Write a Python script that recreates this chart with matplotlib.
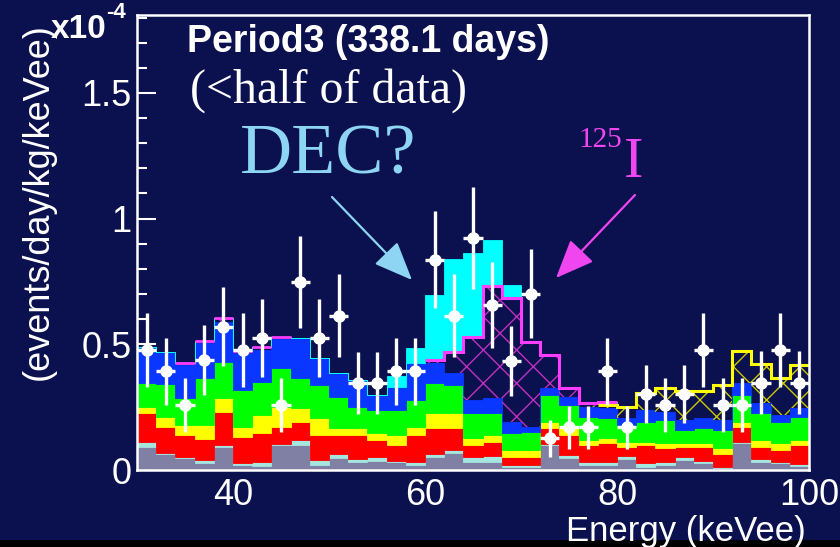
import numpy as np
import matplotlib
matplotlib.use("Agg")
import matplotlib.pyplot as plt
from matplotlib.patches import Rectangle

# ---- data (rates in units of 1e-4 events/day/kg/keVee) ----
energy_edges = np.arange(30, 102, 2)          # 2 keVee bins, 30-100 keVee

data_rate = [0.478, 0.392, 0.259, 0.438, 0.569, 0.478, 0.525, 0.259, 0.748, 0.525,
             0.614, 0.345, 0.345, 0.392, 0.392, 0.837, 0.614, 0.923, 0.657, 0.435,
             0.701, 0.126, 0.170, 0.170, 0.392, 0.170, 0.303, 0.259, 0.303, 0.478,
             0.259, 0.259, 0.348, 0.478, 0.348]
data_err = [0.147, 0.133, 0.106, 0.139, 0.157, 0.147, 0.155, 0.106, 0.183, 0.155,
            0.165, 0.124, 0.124, 0.133, 0.133, 0.192, 0.165, 0.202, 0.171, 0.139,
            0.177, 0.074, 0.086, 0.086, 0.133, 0.086, 0.116, 0.106, 0.116, 0.147,
            0.106, 0.106, 0.124, 0.147, 0.124]

# cumulative (stacked) background model, bottom to top
stack_gray = [0.093, 0.063, 0.047, 0.029, 0.093, 0.020, 0.016, 0.100, 0.100, 0.020,
              0.047, 0.033, 0.036, 0.030, 0.020, 0.053, 0.066, 0.033, 0.033, 0.010,
              0.010, 0.100, 0.047, 0.020, 0.020, 0.043, 0.013, 0.020, 0.040, 0.027,
              0.007, 0.106, 0.033, 0.027, 0.015]
stack_teal = [0.113, 0.068, 0.050, 0.040, 0.100, 0.027, 0.033, 0.105, 0.120, 0.040,
              0.064, 0.045, 0.050, 0.036, 0.030, 0.065, 0.080, 0.053, 0.056, 0.020,
              0.020, 0.104, 0.060, 0.033, 0.033, 0.056, 0.029, 0.033, 0.053, 0.037,
              0.013, 0.113, 0.045, 0.033, 0.025]
stack_red = [0.226, 0.173, 0.139, 0.122, 0.232, 0.133, 0.146, 0.173, 0.192, 0.139,
             0.139, 0.139, 0.120, 0.100, 0.139, 0.166, 0.166, 0.100, 0.113, 0.053,
             0.050, 0.166, 0.139, 0.100, 0.109, 0.093, 0.100, 0.086, 0.093, 0.093,
             0.064, 0.173, 0.093, 0.080, 0.100]
stack_yellow = [0.252, 0.212, 0.179, 0.179, 0.288, 0.173, 0.219, 0.252, 0.246, 0.206,
                0.166, 0.166, 0.146, 0.139, 0.173, 0.226, 0.226, 0.126, 0.139, 0.080,
                0.080, 0.192, 0.166, 0.120, 0.126, 0.113, 0.113, 0.106, 0.109, 0.109,
                0.086, 0.192, 0.120, 0.106, 0.120]
stack_green = [0.345, 0.343, 0.286, 0.365, 0.431, 0.319, 0.352, 0.405, 0.365, 0.339,
               0.292, 0.252, 0.239, 0.239, 0.279, 0.345, 0.339, 0.227, 0.227, 0.146,
               0.153, 0.299, 0.259, 0.212, 0.206, 0.179, 0.192, 0.199, 0.159, 0.166,
               0.159, 0.299, 0.226, 0.192, 0.212]
stack_blue = [0.491, 0.471, 0.418, 0.505, 0.587, 0.465, 0.478, 0.521, 0.525, 0.445,
              0.385, 0.360, 0.300, 0.332, 0.425, 0.425, 0.385, 0.279, 0.285, 0.192,
              0.173, 0.325, 0.289, 0.252, 0.246, 0.206, 0.239, 0.232, 0.199, 0.206,
              0.199, 0.345, 0.268, 0.219, 0.246]
stack_hatch_y = [0.491, 0.471, 0.418, 0.505, 0.587, 0.465, 0.478, 0.521, 0.525, 0.445,
                 0.385, 0.360, 0.300, 0.332, 0.425, 0.425, 0.385, 0.279, 0.285, 0.192,
                 0.173, 0.325, 0.289, 0.256, 0.258, 0.250, 0.305, 0.325, 0.315, 0.315,
                 0.339, 0.475, 0.422, 0.365, 0.418]
stack_i125 = [0.491, 0.471, 0.425, 0.515, 0.604, 0.475, 0.490, 0.530, 0.525, 0.445,
              0.385, 0.360, 0.300, 0.332, 0.425, 0.438, 0.471, 0.531, 0.733, 0.685,
              0.511, 0.458, 0.325, 0.266, 0.272, 0.250, 0.305, 0.325, 0.315, 0.315,
              0.339, 0.475, 0.422, 0.365, 0.418]
stack_dec = [0.491, 0.471, 0.425, 0.515, 0.604, 0.475, 0.490, 0.530, 0.525, 0.445,
             0.385, 0.360, 0.300, 0.372, 0.485, 0.697, 0.839, 0.863, 0.914, 0.737,
             0.511, 0.458, 0.325, 0.266, 0.272, 0.250, 0.305, 0.325, 0.315, 0.315,
             0.339, 0.475, 0.422, 0.365, 0.418]

x_major = [40, 60, 80, 100]
y_major = [0, 0.5, 1, 1.5]
y_labels = ["0", "0.5", "1", "1.5"]

# ---- style ----
BG = "#0b104f"
SANS = ["Liberation Sans", "DejaVu Sans"]
SERIF = ["Liberation Serif", "DejaVu Serif"]
DEC_COL = "#8dd5f2"
I125_COL = "#f046f0"
plt.rcParams["hatch.linewidth"] = 1.0

W, H = 840, 547
fig = plt.figure(figsize=(W / 100, H / 100), dpi=100)
fig.patch.set_facecolor(BG)
fig.patches.append(Rectangle((0, 0), 1, 7 / H, transform=fig.transFigure,
                             facecolor="black", edgecolor="none", zorder=0))

ax = fig.add_axes([137 / W, 1 - 470 / H, (809 - 137) / W, (470 - 15) / H])
ax.set_facecolor("none")
ax.set_xlim(30, 100)
ax.set_ylim(0, 1.81)

edges = energy_edges
gray = np.array(stack_gray)
teal = np.array(stack_teal)
red = np.array(stack_red)
yel = np.array(stack_yellow)
grn = np.array(stack_green)
blue = np.array(stack_blue)
hy = np.array(stack_hatch_y)
i125 = np.array(stack_i125)
dec = np.array(stack_dec)

layers = [
    (np.zeros_like(gray), gray, "#8080a4"),
    (gray, teal, "#a6e6e0"),
    (teal, red, "#ff0000"),
    (red, yel, "#ffff00"),
    (yel, grn, "#00ff00"),
    (grn, blue, "#0a37ff"),
]
for lo, hi, col in layers:
    ax.stairs(hi, edges, baseline=lo, fill=True, facecolor=col,
              edgecolor=col, linewidth=0.6, zorder=2)

# hatched components
ax.stairs(hy, edges, baseline=blue, fill=True, facecolor="none",
          edgecolor="#c8c800", hatch="x", linewidth=0, zorder=2)
ax.stairs(i125, edges, baseline=hy, fill=True, facecolor="none",
          edgecolor="#c030c0", hatch="x", linewidth=0, zorder=2)
ax.stairs(dec, edges, baseline=i125, fill=True, facecolor="#00ffff",
          edgecolor="#00ffff", linewidth=0.6, zorder=2)

# outlines of the hatched components
low = (edges[1:] <= 60) & (i125 - hy > 0.003)
ax.hlines(i125[low], edges[:-1][low], edges[1:][low], color="#ff3cff",
          linewidth=2.0, zorder=3)
ax.stairs(i125[15:25], edges[15:26], baseline=None, fill=False,
          color="#ff3cff", linewidth=2.2, zorder=3)
ax.stairs(hy[24:], edges[24:], baseline=None, fill=False,
          color="#ffff00", linewidth=2.2, zorder=3)

# measured points
centers = 0.5 * (edges[:-1] + edges[1:])
ax.errorbar(centers, data_rate, yerr=data_err, xerr=1.0, fmt="o", color="white",
            ms=8, elinewidth=2.4, capsize=0, zorder=6)

# frame and ticks
for sp in ax.spines.values():
    sp.set_color("white")
    sp.set_linewidth(1.8)
    sp.set_zorder(8)
ax.set_xticks(x_major)
ax.set_xticks(np.arange(35, 100, 5), minor=True)
ax.set_yticks(y_major)
ax.set_yticklabels(y_labels)
ax.set_yticks(np.arange(0, 1.81, 0.1), minor=True)
ax.tick_params(which="both", direction="in", colors="white", width=1.5,
               top=False, right=False)
ax.tick_params(axis="y", which="major", length=14, pad=4)
ax.tick_params(axis="y", which="minor", length=7)
ax.tick_params(axis="x", which="major", length=6, pad=6)
ax.tick_params(axis="x", which="minor", length=5)
for lab in ax.get_xticklabels() + ax.get_yticklabels():
    lab.set_fontfamily(SANS)
    lab.set_fontsize(26)
    lab.set_color("white")

# axis titles
fig.text(806 / W, 1 - 532 / H, "Energy (keVee)", ha="right", va="center",
         color="white", fontsize=25, family=SANS)
fig.text(38 / W, 1 - 202 / H, "(events/day/kg/keVee)", ha="center", va="center",
         rotation=90, color="white", fontsize=26, family=SANS)
fig.text(51 / W, 1 - 30 / H, "x10", ha="left", va="center", color="white",
         fontsize=24, fontweight="bold", family=SANS)
fig.text(106 / W, 1 - 13 / H, "-4", ha="left", va="center", color="white",
         fontsize=16, fontweight="bold", family=SANS)

# annotations
fig.text(187 / W, 1 - 42 / H, "Period3 (338.1 days)", ha="left", va="center",
         color="white", fontsize=27, fontweight="bold", family=SANS)
fig.text(190 / W, 1 - 91 / H, "(<half of data)", ha="left", va="center",
         color="white", fontsize=34.5, family=SERIF)
fig.text(240 / W, 1 - 156 / H, "DEC?", ha="left", va="center",
         color=DEC_COL, fontsize=52, family=SERIF)
fig.text(578 / W, 1 - 140 / H, "125", ha="left", va="center",
         color=I125_COL, fontsize=21, family=SERIF)
fig.text(624 / W, 1 - 163 / H, "I", ha="left", va="center",
         color=I125_COL, fontsize=42, family=SERIF)

arrow_kw = dict(xycoords="figure fraction", textcoords="figure fraction")
ax.annotate("", xy=(412 / W, 1 - 280 / H), xytext=(332 / W, 1 - 197 / H),
            arrowprops=dict(arrowstyle="-|>,head_length=1.2,head_width=0.5",
                            mutation_scale=20, color=DEC_COL, lw=1.6,
                            shrinkA=0, shrinkB=0), **arrow_kw)
ax.annotate("", xy=(556 / W, 1 - 278 / H), xytext=(635 / W, 1 - 195 / H),
            arrowprops=dict(arrowstyle="-|>,head_length=1.2,head_width=0.5",
                            mutation_scale=20, color=I125_COL, lw=1.6,
                            shrinkA=0, shrinkB=0), **arrow_kw)

fig.savefig("out.png", dpi=100, facecolor=fig.get_facecolor())
